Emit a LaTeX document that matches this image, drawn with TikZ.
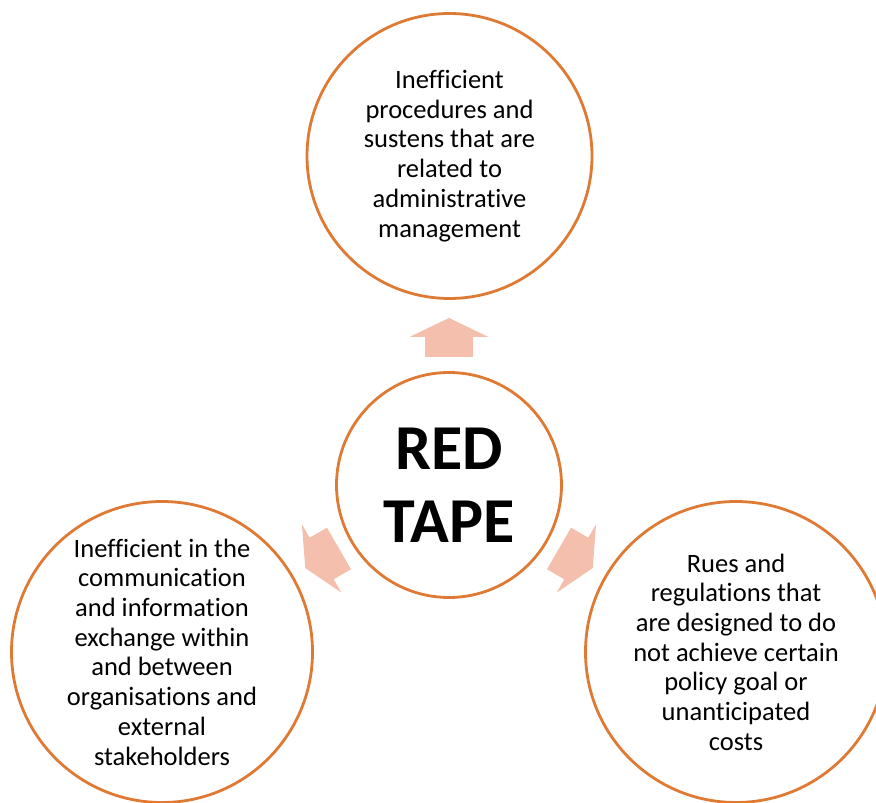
\documentclass[tikz,border=0pt]{standalone}
\usepackage{fontspec}
\setmainfont{Carlito}[Ligatures=NoCommon]
\usetikzlibrary{calc}

\definecolor{ringorange}{RGB}{222,122,52}
\definecolor{arrowpink}{RGB}{244,191,172}

\tikzset{
  ring/.style={circle, draw=ringorange, line width=2.8pt, fill=white, align=center,
    inner sep=0pt, font=\fontsize{26.5}{29.7}\selectfont},
  blockarrow/.pic={
    \fill[arrowpink] (0,19) -- (39.5,0) -- (24,0) -- (24,-20) -- (-24,-20) -- (-24,0) -- (-39.5,0) -- cycle;
  }
}

\begin{document}
\begin{tikzpicture}[x=1pt,y=1pt]
  \useasboundingbox (0,0) rectangle (876,803);
  \clip (0,0) rectangle (876,803);

  % Centre circle
  \node[ring, minimum size=225pt, font=\bfseries\fontsize{64}{73}\selectfont] (redtape) at (449,318) {RED\\TAPE};

  % Outer circles
  \node[ring, minimum size=285pt] (procedures) at (449.5,647)
    {Inefficient\\procedures and\\sustens that are\\related to\\administrative\\management};
  \node[ring, minimum size=301pt] (communication) at (162,151)
    {Inefficient in the\\communication\\and information\\exchange within\\and between\\organisations and\\external\\stakeholders};
  \node[ring, minimum size=301pt] (rules) at (736,151)
    {Rues and\\regulations that\\are designed to do\\not achieve certain\\policy goal or\\unanticipated\\costs};

  % Arrows
  \pic at ($(redtape.center)+(90:148)$) {blockarrow};
  \pic[rotate=120] at ($(redtape.center)+(210:147)$) {blockarrow};
  \pic[rotate=-120] at ($(redtape.center)+(330:147)$) {blockarrow};
\end{tikzpicture}
\end{document}
